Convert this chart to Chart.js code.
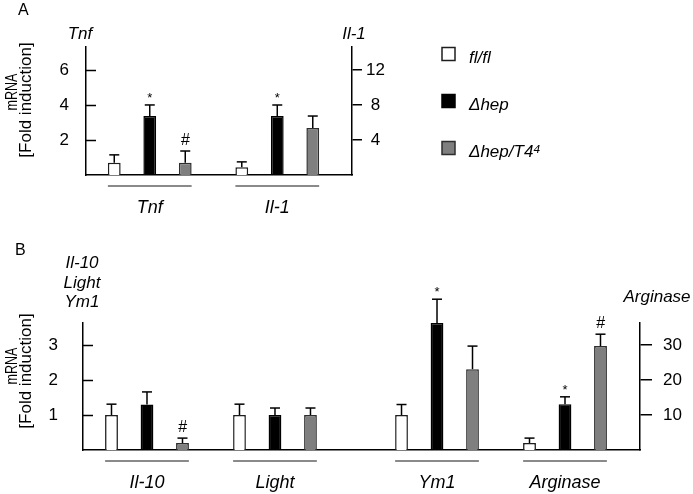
<!DOCTYPE html>
<html><head><meta charset="utf-8">
<script src="https://cdn.jsdelivr.net/npm/chart.js@4.4.1/dist/chart.umd.min.js"></script>
<style>
html,body{margin:0;padding:0;background:#fff;}
#wrap{position:relative;width:693px;height:494px;overflow:hidden;background:#fff;}
#cA{position:absolute;left:0;top:0;}
#cB{position:absolute;left:0;top:215px;}
</style></head><body>
<div id="wrap"><canvas id="cA" width="693" height="215"></canvas><canvas id="cB" width="693" height="279"></canvas></div>
<script>
// ---------------- data ----------------
const seriesNames = ['fl/fl', 'Δhep', 'Δhep/T4⁴'];
const yAxisLabelLines = ['mRNA', '[Fold induction]'];

// Panel A  (Tnf on left axis, Il-1 on right axis)
const categoriesA = ['Tnf', 'Il-1'];
const axisOfCategoryA = ['y', 'y1'];
const flflA    = [0.70, 0.90];
const dhepA    = [3.37, 6.74];
const dhepT4A  = [0.70, 5.37];
const flflErrA   = [0.45, 0.60];
const dhepErrA   = [0.63, 1.26];
const dhepT4ErrA = [0.67, 1.37];
const flflMarksA   = ['', ''];
const dhepMarksA   = ['*', '*'];
const dhepT4MarksA = ['#', ''];
const leftTicksA  = [2, 4, 6];
const rightTicksA = [4, 8, 12];
const leftTitleA  = ['Tnf'];
const rightTitleA = ['Il-1'];

// Panel B  (Il-10, Light, Ym1 on left axis, Arginase on right axis)
const categoriesB = ['Il-10', 'Light', 'Ym1', 'Arginase'];
const axisOfCategoryB = ['y', 'y', 'y', 'y1'];
const flflB    = [1.00, 1.00, 1.00, 2.0];
const dhepB    = [1.30, 1.00, 3.63, 13.1];
const dhepT4B  = [0.20, 1.00, 2.31, 29.7];
const flflErrB   = [0.31, 0.31, 0.30, 1.4];
const dhepErrB   = [0.36, 0.20, 0.68, 2.1];
const dhepT4ErrB = [0.14, 0.20, 0.66, 3.4];
const flflMarksB   = ['', '', '', ''];
const dhepMarksB   = ['', '', '*', '*'];
const dhepT4MarksB = ['#', '', '', '#'];
const leftTicksB  = [1, 2, 3];
const rightTicksB = [10, 20, 30];
const leftTitleB  = ['Il-10', 'Light', 'Ym1'];
const rightTitleB = ['Arginase'];

// ---------------- drawing ----------------
const FONT = '"Liberation Sans", Arial, Helvetica, sans-serif';
const STYLES = [
  {bg: '#ffffff', bd: '#1e1e1e'},
  {bg: '#000000', bd: '#000000'},
  {bg: '#7f7f7f', bd: '#2e2e2e'}
];

function makeChart(canvasId, cfg) {
  const positions = cfg.categories.map((c, i) => i + (i >= cfg.gapAfter ? cfg.gap : 0));
  const datasets = [];
  ['y', 'y1'].forEach(axis => {
    cfg.values.forEach((vals, s) => {
      datasets.push({
        label: seriesNames[s],
        yAxisID: axis,
        data: vals.map((v, i) => ({x: positions[i], y: cfg.axisOf[i] === axis ? v : null})),
        errors: cfg.errors[s],
        marks: cfg.marks[s],
        backgroundColor: STYLES[s].bg,
        borderColor: STYLES[s].bd,
        borderWidth: 1.5,
        skipNull: true,
        categoryPercentage: cfg.catPct,
        barPercentage: cfg.barPct
      });
    });
  });

  const line = (ctx, x1, y1, x2, y2) => { ctx.beginPath(); ctx.moveTo(x1, y1); ctx.lineTo(x2, y2); ctx.stroke(); };

  const deco = {
    id: 'deco',
    afterDatasetsDraw(chart) {
      const ctx = chart.ctx;
      const area = chart.chartArea;
      ctx.save();
      // error bars + significance marks
      chart.data.datasets.forEach((ds, di) => {
        const meta = chart.getDatasetMeta(di);
        const ys = chart.scales[ds.yAxisID];
        meta.data.forEach((el, i) => {
          const v = ds.data[i].y;
          if (v === null) return;
          const top = ys.getPixelForValue(v + ds.errors[i]);
          ctx.strokeStyle = '#000'; ctx.lineWidth = 1.5;
          line(ctx, el.x, el.y, el.x, top);
          line(ctx, el.x - 5, top, el.x + 5, top);
          const mk = ds.marks[i];
          if (mk) {
            ctx.fillStyle = '#000'; ctx.textAlign = 'center'; ctx.textBaseline = 'alphabetic';
            ctx.font = mk === '*' ? `13px ${FONT}` : `italic 16px ${FONT}`;
            ctx.fillText(mk, el.x, top - (mk === '*' ? 3 : 6));
          }
        });
      });
      // inward tick marks on left axis
      const yl = chart.scales.y;
      ctx.strokeStyle = '#000'; ctx.lineWidth = 1.5;
      yl.ticks.forEach(t => { const py = Math.round(yl.getPixelForValue(t.value)) + 0.5; line(ctx, area.left, py, area.left + 10, py); });
      // group underlines + labels
      cfg.categories.forEach((c, i) => {
        let minX = Infinity, maxX = -Infinity;
        chart.data.datasets.forEach((ds, di) => {
          if (ds.data[i].y === null) return;
          const el = chart.getDatasetMeta(di).data[i];
          minX = Math.min(minX, el.x - el.width / 2);
          maxX = Math.max(maxX, el.x + el.width / 2);
        });
        ctx.strokeStyle = '#8a8a8a'; ctx.lineWidth = 2;
        line(ctx, minX, area.bottom + 11, maxX, area.bottom + 11);
        ctx.fillStyle = '#000'; ctx.font = `italic 18px ${FONT}`; ctx.textAlign = 'center'; ctx.textBaseline = 'alphabetic';
        ctx.fillText(c, (minX + maxX) / 2, area.bottom + 38);
      });
      // panel letter
      ctx.fillStyle = '#000'; ctx.textAlign = 'left'; ctx.font = `16px ${FONT}`;
      ctx.fillText(cfg.letter.text, cfg.letter.x, cfg.letter.y);
      // axis titles (horizontal, italic)
      ctx.font = `italic 17px ${FONT}`; ctx.textAlign = 'center';
      cfg.leftTitle.lines.forEach((t, k) => ctx.fillText(t, cfg.leftTitle.x, cfg.leftTitle.y + k * cfg.leftTitle.dy));
      cfg.rightTitle.lines.forEach((t, k) => ctx.fillText(t, cfg.rightTitle.x, cfg.rightTitle.y + k * 19));
      // rotated y label
      ctx.font = `17px ${FONT}`; ctx.textBaseline = 'middle';
      const yl2 = cfg.yLabel;
      [[yAxisLabelLines[0], yl2.x1, yl2.y1, yl2.w1], [yAxisLabelLines[1], yl2.x2, yl2.y2, yl2.w2]].forEach(([t, x, y, w]) => {
        ctx.save(); ctx.translate(x, y); ctx.rotate(-Math.PI / 2); ctx.fillText(t, 0, 0, w); ctx.restore();
      });
      // legend
      if (cfg.legend) {
        const L = cfg.legend;
        seriesNames.forEach((n, s) => {
          const cy = L.ys[s];
          ctx.fillStyle = STYLES[s].bg; ctx.fillRect(L.x, cy - 6.5, 13, 13);
          ctx.strokeStyle = STYLES[s].bd; ctx.lineWidth = 1.5; ctx.strokeRect(L.x, cy - 6.5, 13, 13);
          ctx.fillStyle = '#000'; ctx.font = `italic 17px ${FONT}`; ctx.textAlign = 'left'; ctx.textBaseline = 'alphabetic';
          ctx.fillText(n, L.tx, cy + 9);
        });
      }
      ctx.restore();
    }
  };

  const tickFont = {family: FONT, size: 17};
  return new Chart(document.getElementById(canvasId), {
    type: 'bar',
    data: {datasets},
    options: {
      responsive: false, animation: false, devicePixelRatio: 1,
      layout: {padding: {top: cfg.top, left: 0, right: 0, bottom: 0}},
      plugins: {legend: {display: false}, tooltip: {enabled: false}},
      scales: {
        x: {
          type: 'linear', min: -0.5, max: positions[positions.length - 1] + 0.5 + cfg.extraRight, bounds: 'data',
          offset: false,
          grid: {display: false, drawTicks: false, offset: false},
          border: {display: true, color: '#000', width: 1.5},
          ticks: {display: false},
          afterBuildTicks: s => { s.ticks = positions.map(v => ({value: v})); },
          afterFit: s => { s.height = cfg.H - cfg.bottom; }
        },
        y: {
          position: 'left', min: 0, max: cfg.leftMax, bounds: 'data',
          grid: {display: false, drawTicks: false},
          border: {display: true, color: '#000', width: 1.5},
          ticks: {color: '#000', font: tickFont, padding: cfg.leftPad},
          afterBuildTicks: s => { s.ticks = cfg.leftTicks.map(v => ({value: v})); },
          afterFit: s => { s.width = cfg.left; }
        },
        y1: {
          position: 'right', min: 0, max: cfg.rightMax, bounds: 'data',
          grid: {display: true, drawOnChartArea: false, drawTicks: true, tickLength: cfg.rightTickLen, color: '#000', lineWidth: 1.5},
          border: {display: true, color: '#000', width: 1.5},
          ticks: {color: '#000', font: tickFont, padding: cfg.rightPad, crossAlign: 'center'},
          afterBuildTicks: s => { s.ticks = cfg.rightTicks.map(v => ({value: v})); },
          afterFit: s => { s.width = cfg.W - cfg.right; }
        }
      }
    },
    plugins: [deco]
  });
}

makeChart('cA', {
  W: 693, H: 215, top: 47, bottom: 175, left: 86, right: 352,
  categories: categoriesA, axisOf: axisOfCategoryA,
  values: [flflA, dhepA, dhepT4A],
  errors: [flflErrA, dhepErrA, dhepT4ErrA],
  marks: [flflMarksA, dhepMarksA, dhepT4MarksA],
  gapAfter: 99, gap: 0, extraRight: 0.086,
  leftMax: 7.31, rightMax: 14.63, leftTicks: leftTicksA, rightTicks: rightTicksA,
  leftPad: 17, rightTickLen: 10, rightPad: 4,
  catPct: 0.835, barPct: 0.36,
  letter: {text: 'A', x: 18, y: 15},
  leftTitle: {lines: leftTitleA, x: 80, y: 39, dy: 19},
  rightTitle: {lines: rightTitleA, x: 354, y: 39},
  yLabel: {x1: 12, y1: 92, w1: 37, x2: 26, y2: 100, w2: 125},
  legend: {x: 442, ys: [54, 101, 148], tx: 469}
});

makeChart('cB', {
  W: 693, H: 279, top: 108, bottom: 235, left: 83, right: 640,
  categories: categoriesB, axisOf: axisOfCategoryB,
  values: [flflB, dhepB, dhepT4B],
  errors: [flflErrB, dhepErrB, dhepT4ErrB],
  marks: [flflMarksB, dhepMarksB, dhepT4MarksB],
  gapAfter: 2, gap: 0.266, extraRight: 0.086,
  leftMax: 3.63, rightMax: 36.3, leftTicks: leftTicksB, rightTicks: rightTicksB,
  leftPad: 25, rightTickLen: 12, rightPad: 11,
  catPct: 0.832, barPct: 0.36,
  letter: {text: 'B', x: 15, y: 40},
  leftTitle: {lines: leftTitleB, x: 82, y: 53, dy: 19.5},
  rightTitle: {lines: rightTitleB, x: 657, y: 87},
  yLabel: {x1: 12, y1: 151, w1: 37, x2: 26, y2: 156, w2: 125},
  legend: null
});
</script>
</body></html>
